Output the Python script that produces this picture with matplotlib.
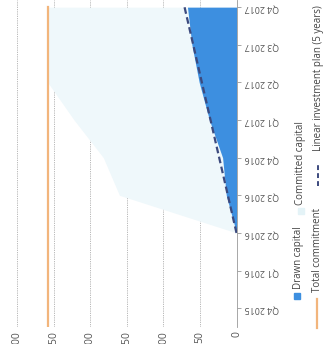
import numpy as np
import matplotlib
matplotlib.use("Agg")
import matplotlib.pyplot as plt
from matplotlib.patches import Rectangle
from matplotlib.lines import Line2D

plt.rcParams['font.family'] = ['Open Sans', 'DejaVu Sans']

quarters = ["Q4 2015", "Q1 2016", "Q2 2016", "Q3 2016", "Q4 2016",
            "Q1 2017", "Q2 2017", "Q3 2017", "Q4 2017"]
value_ticks = [0, 50, 100, 150, 200, 250, 300]

# capital series start in Q2 2016
capital_quarters = ["Q2 2016", "Q3 2016", "Q4 2016", "Q1 2017",
                    "Q2 2017", "Q3 2017", "Q4 2017"]
drawn_capital = [0, 14, 19, 37, 51, 61, 67]
committed_capital = [0, 160, 182, 222, 258, 258, 258]

plan_quarters = ["Q2 2016", "Q4 2017"]
plan_values = [0, 71]

total_commitment = 258

BLUE = "#3d8fe0"
LIGHT = "#eff8fb"
ORANGE = "#f2b57c"
NAVY = "#3c4a7e"

W, H = 323, 344
fig = plt.figure(figsize=(W / 100, H / 100), dpi=100)
ax = fig.add_axes([0, 17 / H, 236.5 / W, 1 - 17 / H])

pos = {q: i for i, q in enumerate(quarters)}
cap_y = [pos[q] for q in capital_quarters]
plan_y = [pos[q] for q in plan_quarters]

# chart is laid on its side: time runs upward, values grow to the left
ax.fill_betweenx(cap_y, 0, committed_capital, color=LIGHT, lw=0, zorder=2)
ax.fill_betweenx(cap_y, 0, drawn_capital, color=BLUE, lw=0, zorder=3)
ax.plot(plan_values, plan_y, color=NAVY, lw=1.6, ls=(0, (3, 1.6)), zorder=4)
ax.plot([total_commitment, total_commitment], [-0.5, len(quarters) - 1],
        color=ORANGE, lw=1.6, zorder=4)

ax.set_xlim(323.2, 0)
ax.set_ylim(-0.5, 8.19)

ax.set_yticks(range(len(quarters)))
ax.set_yticklabels(quarters)
ax.yaxis.tick_right()
ax.tick_params(axis='y', labelrotation=180, length=3, width=0.6,
               color="#999999", labelcolor="#555555", labelsize=6.4, pad=3)

ax.set_xticks(value_ticks)
ax.tick_params(axis='x', labelrotation=90, length=0, labelcolor="#555555",
               labelsize=7.5, pad=3)
ax.grid(axis='x', color="#b0b0b0", lw=0.6, ls=(0, (1.5, 1.2)), zorder=1)
ax.set_axisbelow(True)

for side in ["top", "bottom", "left"]:
    ax.spines[side].set_visible(False)
ax.spines["right"].set_color("#999999")
ax.spines["right"].set_linewidth(0.6)
ax.spines["right"].set_zorder(5)


def px(x, y):
    return x / W, 1 - y / H


# legend, turned with the chart
legend_kw = dict(rotation=90, rotation_mode='anchor', ha='left', va='center',
                 fontsize=7, color="#444444")
fig.add_artist(Rectangle(px(294, 299), 6 / W, 6 / H, color=BLUE,
                         transform=fig.transFigure))
fig.text(*px(299, 289), "Drawn capital", **legend_kw)
fig.add_artist(Rectangle(px(298, 214), 6 / W, 6 / H, color="#e4f3f7",
                         transform=fig.transFigure))
fig.text(*px(301, 205), "Committed capital", **legend_kw)
fig.add_artist(Line2D([317 / W, 317 / W], [1 - 328 / H, 1 - 299 / H],
                      color=ORANGE, lw=1.6, transform=fig.transFigure))
fig.text(*px(318, 292), "Total commitment", **legend_kw)
fig.add_artist(Line2D([318 / W, 318 / W], [1 - 186 / H, 1 - 163 / H],
                      color=NAVY, lw=1.4, ls=(0, (2.5, 1.6)),
                      transform=fig.transFigure))
fig.text(*px(318, 151), "Linear investment plan (5 years)", **legend_kw)

fig.savefig("out.png", dpi=100)
